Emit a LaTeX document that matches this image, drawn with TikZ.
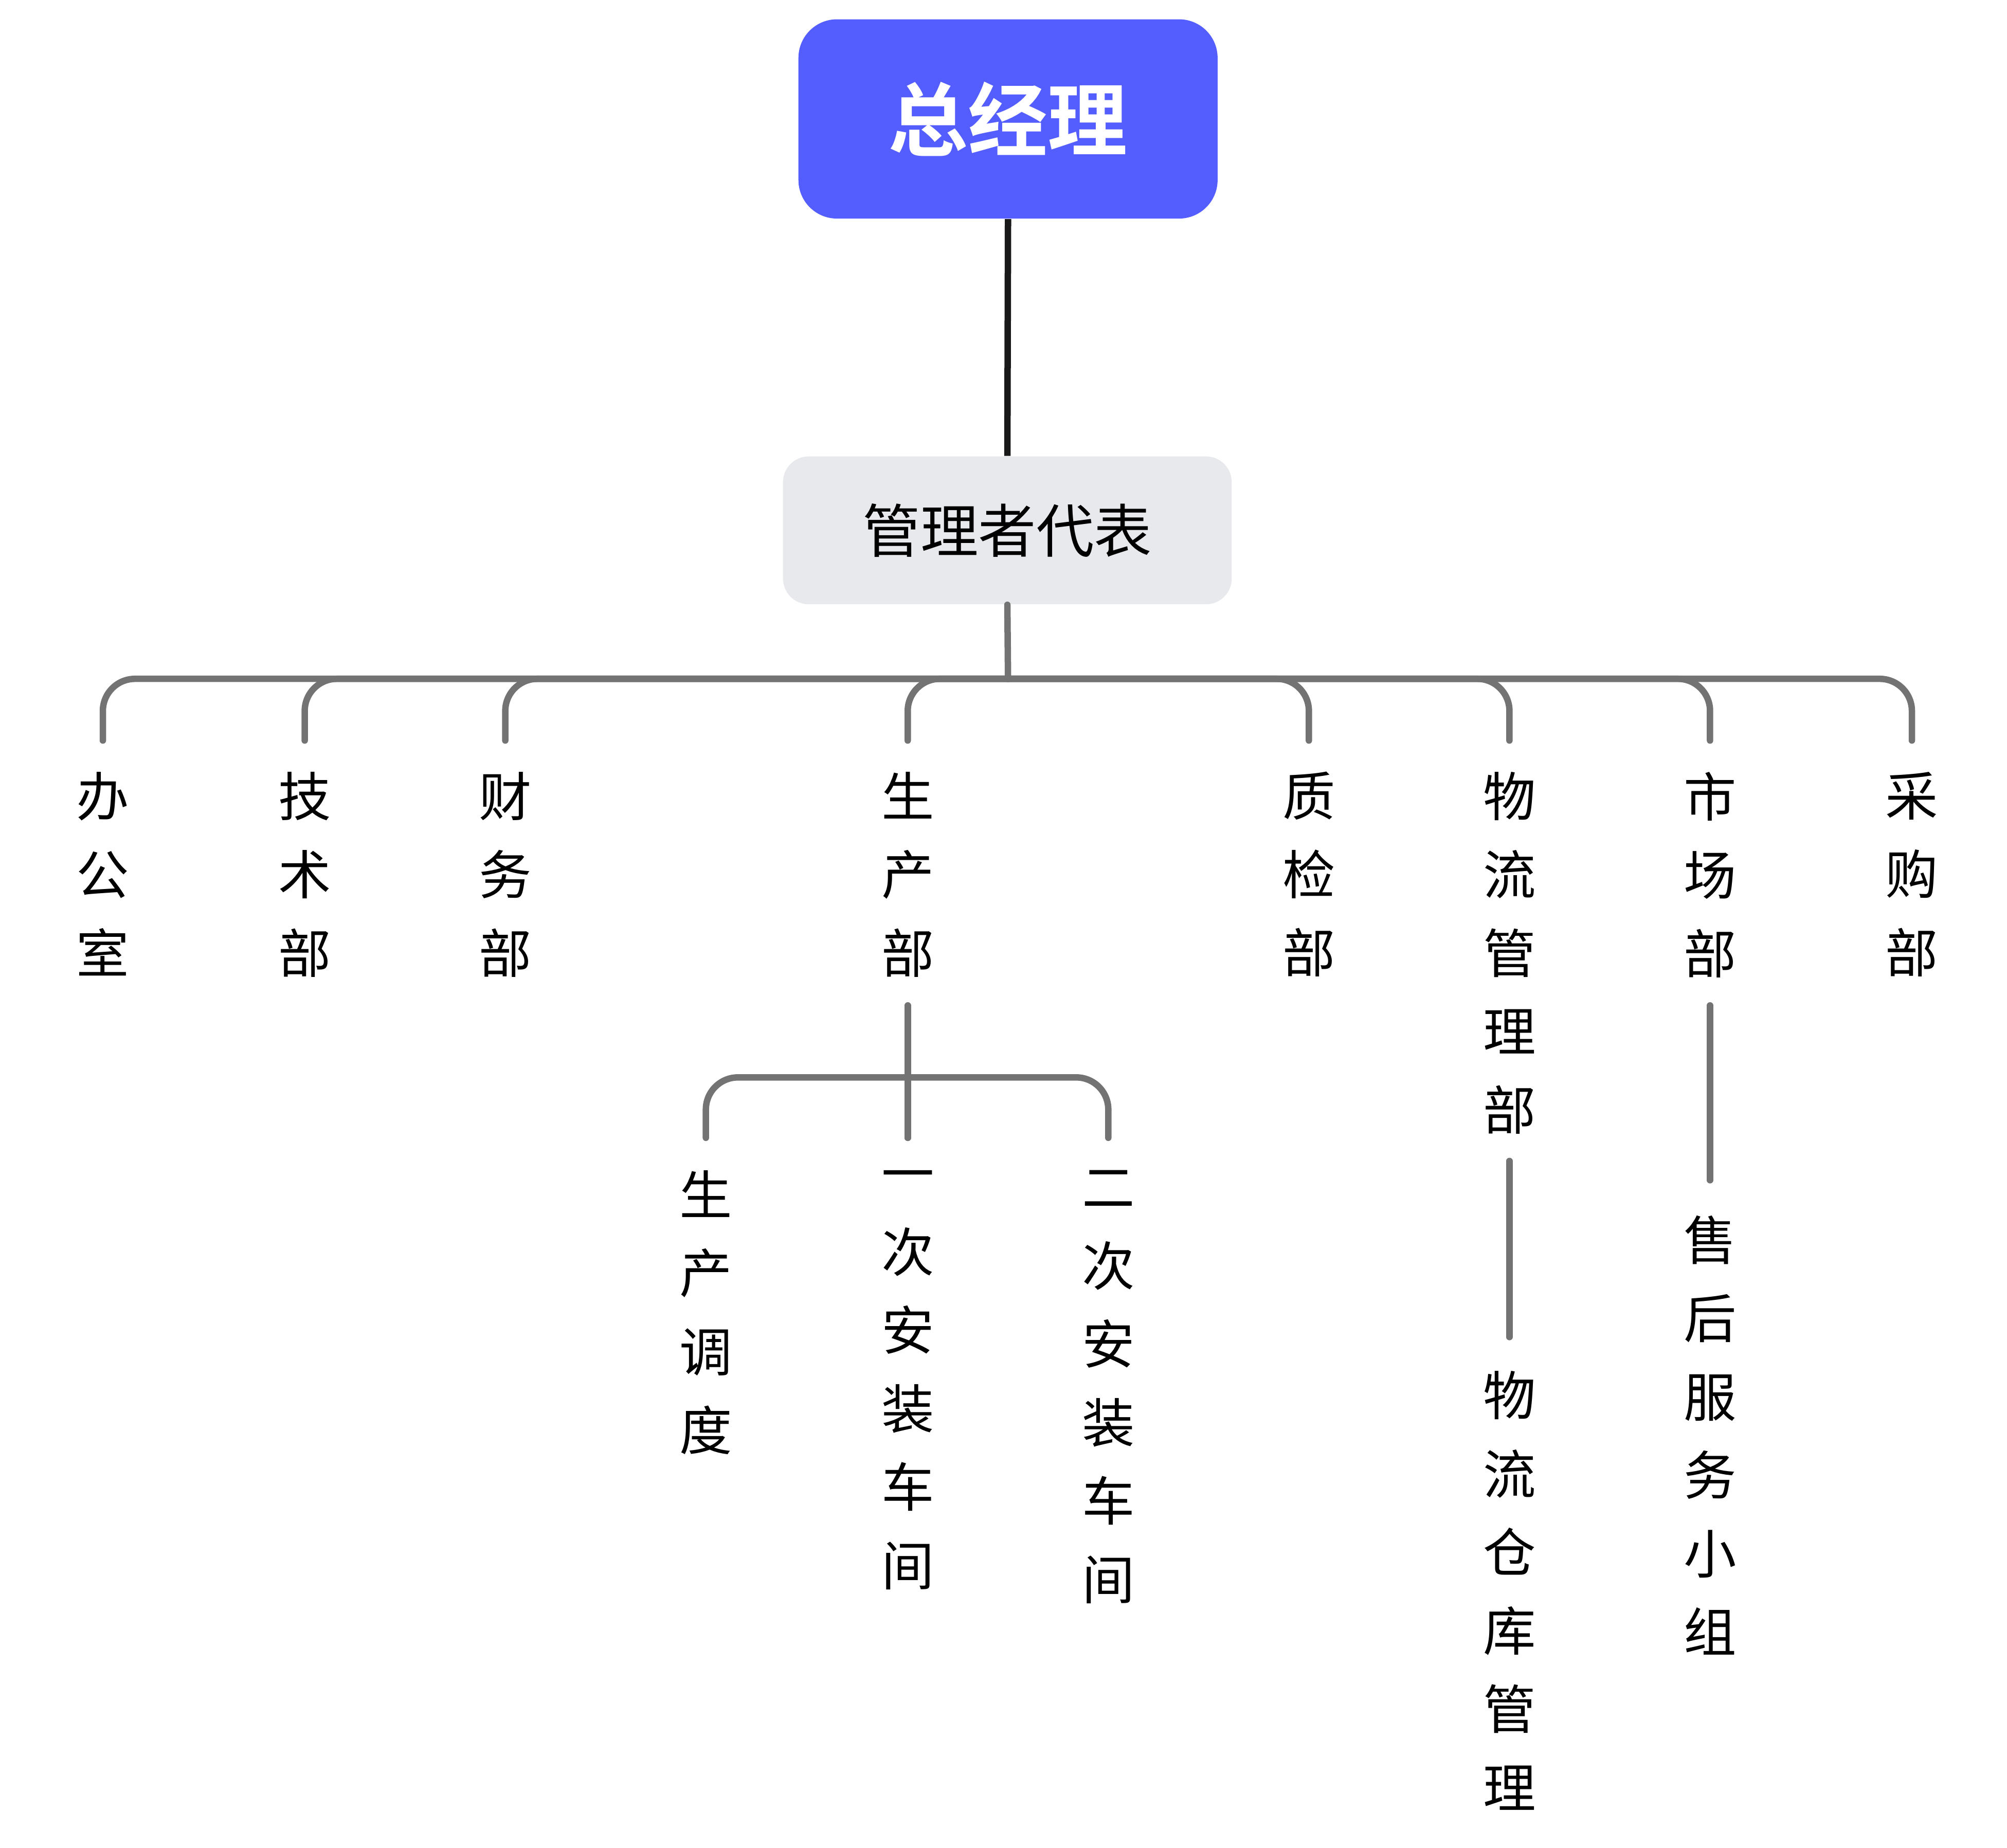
\documentclass[tikz,border=0pt]{standalone}
\usepackage{fontspec}
\newfontfamily\cjk[BoldFont={Noto Sans CJK SC Bold}]{Noto Sans CJK SC}
\definecolor{topblue}{HTML}{545EFF}
\definecolor{mgrgray}{HTML}{E8E9EC}
\definecolor{linegray}{HTML}{737373}
\tikzset{
  vtext/.style={anchor=north,inner sep=0pt,align=center,font=\cjk\fontsize{20.5}{30.5}\selectfont},
  conn/.style={draw=linegray,line width=2.5pt,rounded corners=12.5pt,line cap=round},
}
\newcommand{\vcol}[1]{#1}
\begin{document}
\begin{tikzpicture}[x=0.5pt,y=-0.5pt]
\useasboundingbox (0,0) rectangle (1561,1437);
\node[fill=topblue,rounded corners=15pt,minimum width=163pt,minimum height=77.5pt,text=white,font=\cjk\bfseries\fontsize{31}{31}\selectfont] (gm) at (784,92.5) {总经理};
\node[fill=mgrgray,rounded corners=10pt,minimum width=174.5pt,minimum height=57.5pt,font=\cjk\fontsize{22.5}{22.5}\selectfont] (mgr) at (783.5,412.5) {管理者代表};
\draw[line width=2.5pt,black!90] (gm.south) -- (mgr.north);
\coordinate (bus) at (784,528);
\draw[conn] (mgr.south) -- (bus);
\foreach \n/\x/\t in {a/80/{办\\公\\室},b/237/{技\\术\\部},c/393/{财\\务\\部},d/706/{生\\产\\部},e/1018/{质\\检\\部},f/1174/{物\\流\\管\\理\\部},g/1330/{市\\场\\部},h/1487/{采\\购\\部}}{
  \node[vtext] (\n) at (\x,600) {\t};
  \coordinate (\n top) at (\x,576);
  \draw[conn] (bus) -| (\n top);
}
% production sub
\coordinate (pbus) at (706,838);
\coordinate (pstart) at (706,782);
\foreach \n/\x/\t in {d1/549/{生\\产\\调\\度},d2/706/{一\\次\\安\\装\\车\\间},d3/862/{二\\次\\安\\装\\车\\间}}{
  \node[vtext] (\n) at (\x,910) {\t};
  \coordinate (\n top) at (\x,885);
  \draw[conn] (pbus) -| (\n top);
}
\draw[conn] (pstart) -- (d2top);
% logistics
\node[vtext] (f1) at (1174,1066) {物\\流\\仓\\库\\管\\理};
\coordinate (fs) at (1174,903);
\coordinate (fe) at (1174,1040);
\draw[conn] (fs) -- (fe);
% market
\node[vtext] (g1) at (1330,945) {售\\后\\服\\务\\小\\组};
\coordinate (gs) at (1330,782);
\coordinate (ge) at (1330,918);
\draw[conn] (gs) -- (ge);
\end{tikzpicture}
\end{document}
